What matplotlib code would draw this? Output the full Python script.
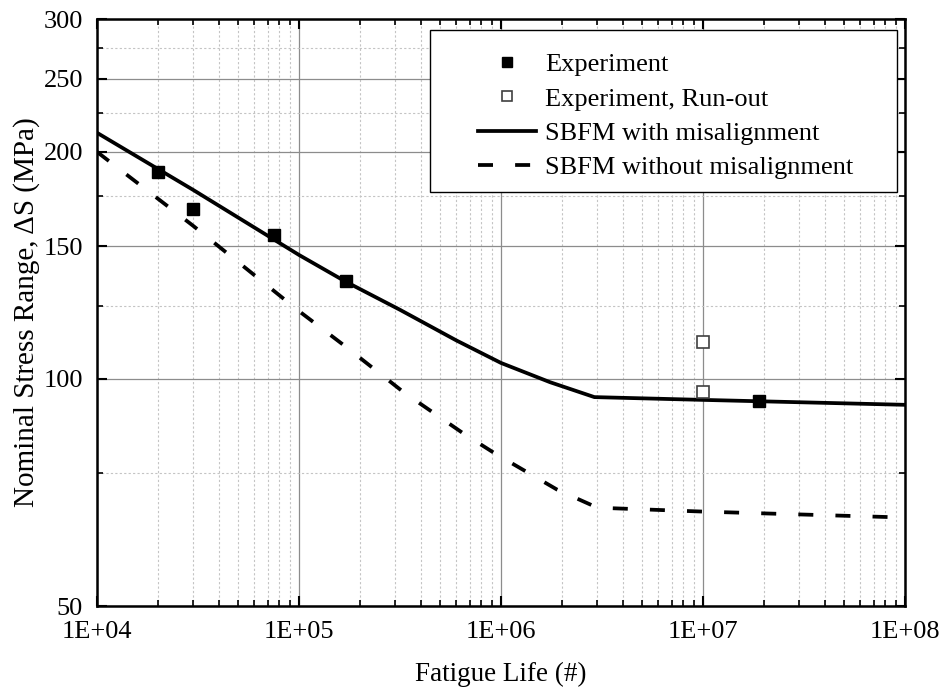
import matplotlib.pyplot as plt
import matplotlib.ticker as mticker
from matplotlib.patches import Rectangle

# SBFM curves
life_with = [1e4, 3e4, 1e5, 1.7e5, 3.16e5, 6e5, 1e6, 1.75e6, 2.9e6, 1e7, 1e8]
stress_with = [212, 178, 146, 134.6, 123.5, 112.5, 105, 99, 94.6, 93.8, 92.4]

life_without = [1e4, 3e4, 1e5, 1.7e5, 3.3e5, 6.5e5, 9.3e5, 1.9e6, 3e6, 1e7, 1e8]
stress_without = [200, 159.5, 123, 110.4, 96, 84.7, 79.7, 71.3, 67.5, 66.7, 65.5]

# test results
exp_life = [2e4, 3e4, 7.5e4, 1.7e5, 1.9e7]
exp_stress = [188, 168, 155, 135, 93.5]
runout_life = [1e7, 1e7]
runout_stress = [112, 96]

x_ticks = [1e4, 1e5, 1e6, 1e7, 1e8]
x_tick_labels = ["1E+04", "1E+05", "1E+06", "1E+07", "1E+08"]
y_ticks = [50, 100, 150, 200, 250, 300]
y_minor = [75, 125, 175, 225, 275]

plt.rcParams["font.family"] = ["Liberation Serif", "DejaVu Serif"]

fig = plt.figure(figsize=(9.46, 6.91), dpi=100)
ax = fig.add_axes([0.1025, 0.123, 0.8542, 0.8495])

ax.set_xscale("log")
ax.set_yscale("log")
ax.set_xlim(1e4, 1e8)
ax.set_ylim(50, 300)

ax.plot(life_with, stress_with, color="black", lw=2.7, zorder=3,
        label="SBFM with misalignment")
ax.plot(life_without, stress_without, color="black", lw=2.7,
        linestyle=(0, (4, 5.9)), zorder=3, label="SBFM without misalignment")
ax.plot(exp_life, exp_stress, linestyle="none", marker="s", markersize=9,
        color="black", zorder=4, label="Experiment")
ax.plot(runout_life, runout_stress, linestyle="none", marker="s", markersize=9,
        markerfacecolor="white", markeredgecolor="#404040", markeredgewidth=1.2,
        zorder=4, label="Experiment, Run-out")

# axes ticks
ax.xaxis.set_major_locator(mticker.FixedLocator(x_ticks))
ax.xaxis.set_major_formatter(mticker.FixedFormatter(x_tick_labels))
ax.xaxis.set_minor_locator(mticker.LogLocator(base=10, subs=range(2, 10), numticks=20))
ax.xaxis.set_minor_formatter(mticker.NullFormatter())
ax.yaxis.set_major_locator(mticker.FixedLocator(y_ticks))
ax.yaxis.set_major_formatter(mticker.FixedFormatter([str(v) for v in y_ticks]))
ax.yaxis.set_minor_locator(mticker.FixedLocator(y_minor))
ax.yaxis.set_minor_formatter(mticker.NullFormatter())

ax.tick_params(which="both", direction="in", top=True, right=True, labelsize=19)
ax.tick_params(which="major", length=7, width=1.5)
ax.tick_params(which="minor", length=4, width=1.2)
ax.tick_params(axis="x", which="major", pad=11)
ax.tick_params(axis="y", which="major", pad=10)

ax.grid(True, which="major", color="#8c8c8c", lw=0.9, linestyle="-")
ax.grid(True, which="minor", color="#c4c4c4", lw=0.8, linestyle=(0, (2, 2)))
ax.set_axisbelow(True)

for s in ax.spines.values():
    s.set_linewidth(1.8)

ax.set_xlabel("Fatigue Life (#)", fontsize=19.5, labelpad=13.5)
ax.set_ylabel("Nominal Stress Range, ΔS (MPa)", fontsize=21, labelpad=2.5)

# legend box
box = Rectangle((0.412, 0.705), 0.578, 0.276, transform=ax.transAxes,
                facecolor="white", edgecolor="black", lw=1.0, zorder=5)
ax.add_patch(box)

handles, labels = ax.get_legend_handles_labels()
order = [2, 3, 0, 1]
leg = ax.legend([handles[i] for i in order], [labels[i] for i in order],
                loc="upper left", bbox_to_anchor=(0.455, 0.965), frameon=False,
                fontsize=19, handlelength=2.2, handletextpad=0.35,
                labelspacing=0.41, borderpad=0, markerscale=0.75)
leg.set_zorder(6)

fig.savefig("out.png", dpi=100)
